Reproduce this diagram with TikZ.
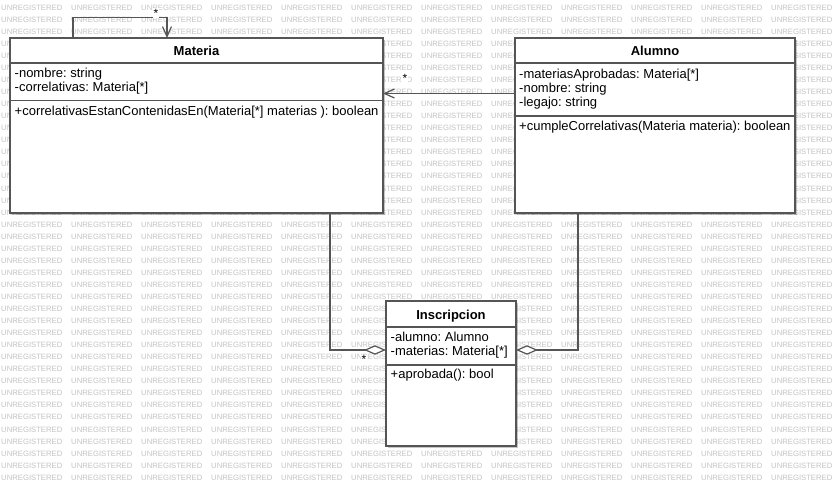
\documentclass[tikz,border=0pt]{standalone}
\usepackage{fontspec}
\setmainfont{Liberation Sans}
\usetikzlibrary{arrows.meta,shadows}
\definecolor{linegray}{HTML}{555555}
\definecolor{wmgray}{HTML}{C4C4C4}
\frenchspacing
\begin{document}
\begin{tikzpicture}[x=1pt,y=-1pt,
  umlbox/.style={draw=linegray, line width=1.3pt, fill=white, anchor=north west,
    inner sep=0pt, outer sep=0pt,
    drop shadow={shadow xshift=1.8pt, shadow yshift=-1.8pt, fill=black, opacity=0.22}},
  sepline/.style={draw=linegray, line width=1.3pt},
  member/.style={anchor=base west, inner sep=0pt, font=\fontsize{13}{14}\selectfont},
  title/.style={anchor=base, inner sep=0pt, font=\fontsize{13}{14}\selectfont\bfseries},
  mult/.style={inner sep=0.6pt, fill=white, font=\fontsize{12}{12}\selectfont},
  assoc/.style={draw=linegray, line width=1.2pt, -{Straight Barb[length=10pt,width=9pt]}},
  aggr/.style={draw=linegray, line width=1.2pt, -{Diamond[length=22pt,width=9.5pt,fill=white]}},
  wm/.style={anchor=base west, inner sep=0pt, text=wmgray, font=\fontsize{7.7}{8}\selectfont},
]
\useasboundingbox (0,0) rectangle (836,486);
\fill[white] (0,0) rectangle (836,486);

% background watermark rows; words lying wholly under a class box are left out
\foreach \r in {0,...,39}
  \foreach \c in {0,...,11}{
    \pgfmathsetmacro\wx{1+70*\c}
    \pgfmathsetmacro\wy{10.3+12.05*\r}
    \pgfmathtruncatemacro\hidden{
      (\wx>=10 && \wx+62<=383 && \wy-6>=38 && \wy+1<=213) ||
      (\wx>=515 && \wx+62<=795 && \wy-6>=38 && \wy+1<=213) ||
      (\wx>=386 && \wx+62<=516 && \wy-6>=301 && \wy+1<=446)}
    \ifnum\hidden=0
      \node[wm] (wm-\r-\c) at (\wx,\wy) {UNREGISTERED};
    \fi
  }

% class boxes
\node[umlbox, minimum width=373pt, minimum height=175pt] (materia) at (10,38) {};
\node[umlbox, minimum width=280pt, minimum height=175pt] (alumno) at (515,38) {};
\node[umlbox, minimum width=130pt, minimum height=145pt] (inscripcion) at (386,301) {};

% compartment separators
\draw[sepline] (materia.west |- 0,63) -- (materia.east |- 0,63);
\draw[sepline] (materia.west |- 0,100.5) -- (materia.east |- 0,100.5);
\draw[sepline] (alumno.west |- 0,63) -- (alumno.east |- 0,63);
\draw[sepline] (alumno.west |- 0,116) -- (alumno.east |- 0,116);
\draw[sepline] (inscripcion.west |- 0,327) -- (inscripcion.east |- 0,327);
\draw[sepline] (inscripcion.west |- 0,365) -- (inscripcion.east |- 0,365);

% Materia
\node[title] (materia-t) at (196.5,55.5) {Materia};
\node[member] (materia-a1) at (14.5,78) {-nombre: string};
\node[member] (materia-a2) at (14.5,92) {-correlativas: Materia[*]};
\node[member] (materia-m1) at (14.5,116) {+correlativasEstanContenidasEn(Materia[*] materias ): boolean};

% Alumno
\node[title] (alumno-t) at (655,55.5) {Alumno};
\node[member] (alumno-a1) at (519,79) {-materiasAprobadas: Materia[*]};
\node[member] (alumno-a2) at (519,93) {-nombre: string};
\node[member] (alumno-a3) at (519,107) {-legajo: string};
\node[member] (alumno-m1) at (519,130.5) {+cumpleCorrelativas(Materia materia): boolean};

% Inscripcion
\node[title] (inscripcion-t) at (451,320) {Inscripcion};
\node[member] (inscripcion-a1) at (390.5,342) {-alumno: Alumno};
\node[member] (inscripcion-a2) at (390.5,356) {-materias: Materia[*]};
\node[member] (inscripcion-m1) at (390.5,378.5) {+aprobada(): bool};

% connectors
\coordinate (loopL) at (73,17.5);
\coordinate (loopR) at (167,17.5);
\draw[assoc] (materia.north -| loopL) -- (loopL) -- (loopR) -- (materia.north -| loopR);
\draw[assoc] (alumno.west |- 0,93.5) -- (materia.east |- 0,93.5);
\draw[aggr] (materia.south -| 330,0) |- (inscripcion.west |- 0,350);
\draw[aggr] (alumno.south -| 578,0) |- (inscripcion.east |- 0,350);

% multiplicities
\node[mult] (mult-self) at (156,13) {*};
\node[mult] (mult-alumno) at (405,78) {*};
\node[mult] (mult-insc) at (364,359.5) {*};
\end{tikzpicture}
\end{document}
